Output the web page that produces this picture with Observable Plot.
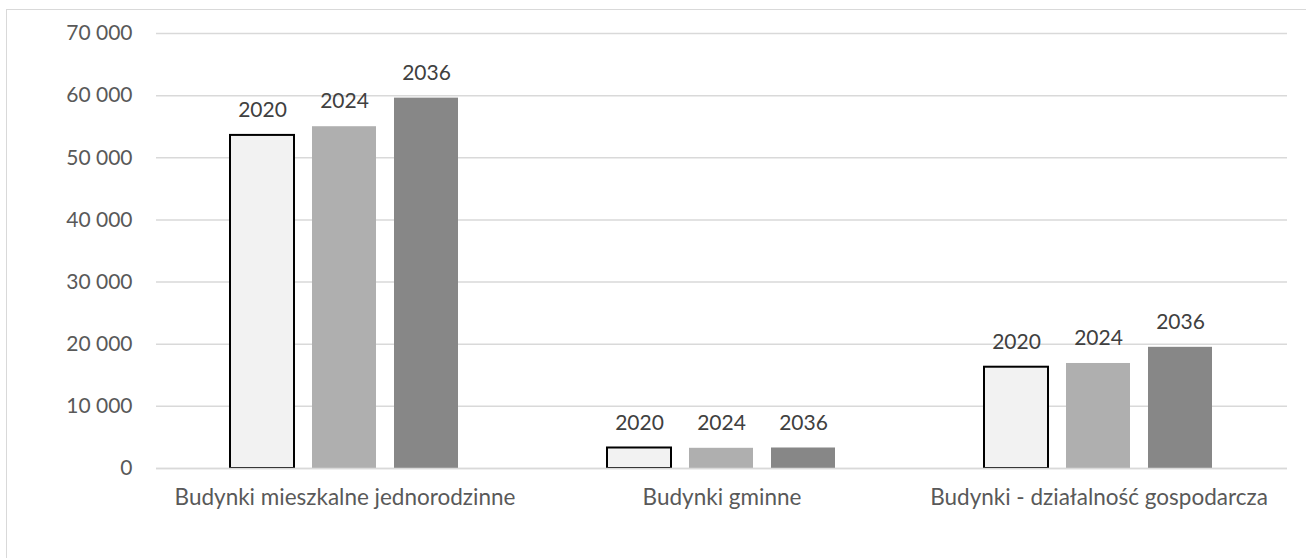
<!DOCTYPE html>
<html>
<head>
<meta charset="utf-8">
<script src="https://cdn.jsdelivr.net/npm/d3@7"></script>
<script src="https://cdn.jsdelivr.net/npm/@observablehq/plot@0.6"></script>
<style>
  html, body { margin: 0; padding: 0; background: #fff; }
  #wrap { position: relative; width: 1306px; height: 558px; overflow: hidden; }
  #frame { position: absolute; left: 6px; top: 9px; width: 1310px; height: 560px; border: 1.5px solid #d9d9d9; box-sizing: border-box; }
  #chart { position: absolute; left: 0; top: 0; }
  #chart g[aria-label^="fx-axis"] text { font-size: 22.5px; }
</style>
</head>
<body>
<div id="wrap"><div id="frame"></div><div id="chart"></div></div>
<script>
const categories = ["Budynki mieszkalne jednorodzinne", "Budynki gminne", "Budynki - działalność gospodarcza"];
const years = ["2020", "2024", "2036"];
const values2020 = [53600, 3300, 16300];
const values2024 = [55000, 3250, 16900];
const values2036 = [59600, 3300, 19500];
const yTicks = [0, 10000, 20000, 30000, 40000, 50000, 60000, 70000];
const colors = ["#f2f2f2", "#afafaf", "#878787"];

const series = [values2020, values2024, values2036];
const data = [];
categories.forEach((c, i) => {
  years.forEach((y, j) => data.push({category: c, year: y, value: series[j][i]}));
});

const fmt = d => d3.format(",")(d).replace(/,/g, " ");

const chart = Plot.plot({
  width: 1306,
  height: 558,
  marginLeft: 155,
  marginRight: 19,
  marginTop: 33,
  marginBottom: 90,
  style: {fontFamily: "Lato", fontSize: "21px", background: "transparent", color: "#595959"},
  fx: {domain: categories, padding: 0, label: null, tickSize: 0, tickPadding: 21, axis: "bottom"},
  x: {domain: years, paddingInner: 0.217, paddingOuter: 0.88, axis: null},
  y: {domain: [0, 70000], ticks: yTicks, tickFormat: fmt, label: null, tickSize: 0, tickPadding: 24},
  color: {domain: years, range: colors},
  marks: [
    Plot.ruleY(yTicks, {stroke: "#d9d9d9", strokeWidth: 1.5}),
    Plot.barY(data, {fx: "category", x: "year", y: "value", fill: "year"}),
    Plot.barY(data.filter(d => d.year === "2020"), {fx: "category", x: "year", y: "value", fill: "none", stroke: "#000", strokeWidth: 2}),
    Plot.ruleY([0], {stroke: "#d9d9d9", strokeWidth: 1.5}),
    Plot.text(data, {fx: "category", x: "year", y: "value", text: "year", dy: -25, fill: "#404040", fontSize: 21})
  ]
});
document.getElementById("chart").appendChild(chart);
</script>
</body>
</html>
